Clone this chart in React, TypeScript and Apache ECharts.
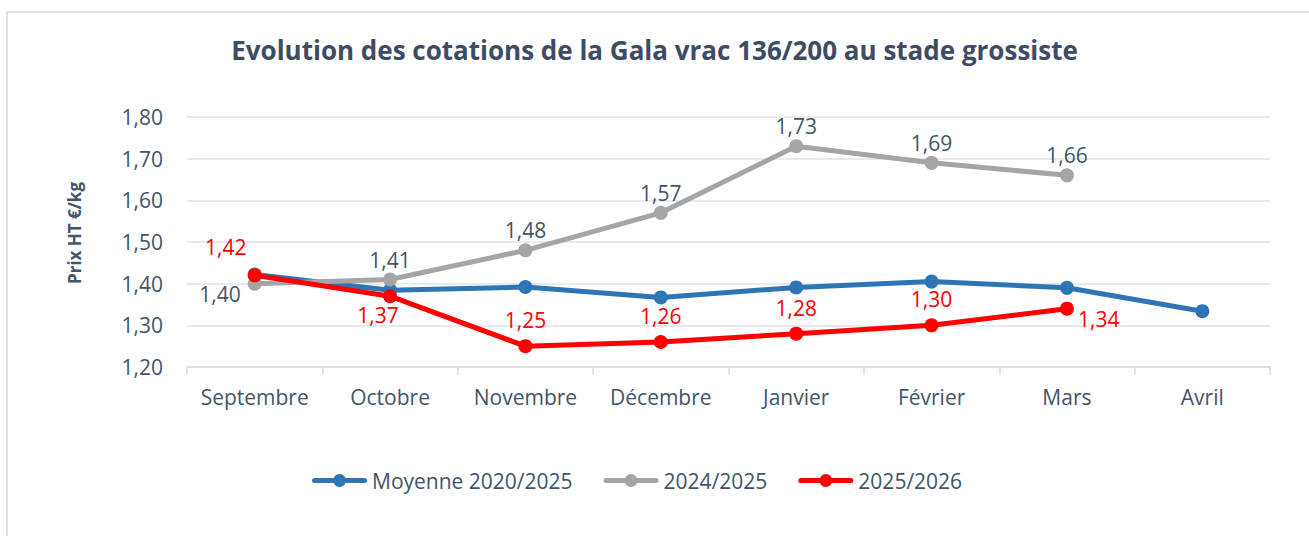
import React, { useEffect, useRef } from "react";
import * as echarts from "echarts";

const months = ["Septembre", "Octobre", "Novembre", "Décembre", "Janvier", "Février", "Mars", "Avril"];
const moyenne20202025 = [1.422, 1.384, 1.392, 1.367, 1.391, 1.405, 1.39, 1.334];
const saison20242025 = [1.4, 1.41, 1.48, 1.57, 1.73, 1.69, 1.66];
const saison20252026 = [1.42, 1.37, 1.25, 1.26, 1.28, 1.3, 1.34];
const seriesNames = ["Moyenne 2020/2025", "2024/2025", "2025/2026"];
const yTicks = [1.2, 1.3, 1.4, 1.5, 1.6, 1.7, 1.8];

const TEXT = "#44546a";
const fmt = (v: number) => v.toFixed(2).replace(".", ",");
const LEGEND_ICON =
  "path://M2.5,4.5 L52.5,4.5 A2.5,2.5 0 0 1 52.5,9.5 L2.5,9.5 A2.5,2.5 0 0 1 2.5,4.5 Z M27.5,0.5 A6.5,6.5 0 0 1 27.5,13.5 A6.5,6.5 0 0 1 27.5,0.5 Z";

export default function App() {
  const ref = useRef<HTMLDivElement>(null);
  useEffect(() => {
    document.body.style.margin = "0";
    if (!ref.current) return;
    const chart = echarts.init(ref.current, null, { renderer: "svg" });

    const grayOverrides: Record<number, any> = {
      0: { position: "left", distance: 7, offset: [0, 10] },
    };
    const redOverrides: Record<number, any> = {
      0: { position: "top", distance: 8, offset: [-29, -2] },
      1: { position: "bottom", distance: 8, offset: [-12, -7] },
      6: { position: "right", distance: 4, offset: [0, 10] },
    };
    const mkData = (arr: number[], ov: Record<number, any>) =>
      arr.map((v, i) => (ov[i] ? { value: v, label: ov[i] } : v));

    const labelBase = {
      show: true,
      fontFamily: "Open Sans",
      fontSize: 21,
      lineHeight: 22,
      formatter: (p: any) => fmt(p.value as number),
    };

    chart.setOption({
      animation: false,
      backgroundColor: "#ffffff",
      title: {
        text: "Evolution des cotations de la Gala vrac 136/200 au stade grossiste",
        left: "center",
        top: 30,
        textStyle: {
          fontFamily: "Open Sans",
          fontWeight: "bold",
          fontSize: 26,
          lineHeight: 30,
          color: "#3e4c63",
        },
      },
      graphic: [
        { type: "line", shape: { x1: 7, y1: 12, x2: 1309, y2: 12 }, style: { stroke: "#dfe3e8", lineWidth: 2 } },
        { type: "line", shape: { x1: 7, y1: 12, x2: 7, y2: 536 }, style: { stroke: "#dfe3e8", lineWidth: 2 } },
        {
          type: "text",
          x: 74,
          y: 233,
          rotation: Math.PI / 2,
          style: {
            text: "Prix HT €/kg",
            fill: TEXT,
            font: "bold 17px 'Open Sans'",
            align: "center",
            verticalAlign: "middle",
          },
        },
      ],
      legend: {
        data: seriesNames.map((n) => ({ name: n, icon: LEGEND_ICON })),
        left: 307,
        top: 465,
        itemWidth: 55,
        itemHeight: 14,
        itemGap: 31,
        textStyle: { fontFamily: "Open Sans", fontSize: 21, color: TEXT },
      },
      grid: { left: 187, right: 39, top: 117, bottom: 169 },
      xAxis: {
        type: "category",
        data: months,
        boundaryGap: true,
        axisLine: { show: true, lineStyle: { color: "#d9dde3", width: 1.5 } },
        axisTick: { show: true, interval: 0, length: 8, lineStyle: { color: "#d9dde3", width: 1.5 } },
        axisLabel: { interval: 0, color: TEXT, fontFamily: "Open Sans", fontSize: 21, margin: 19 },
      },
      yAxis: {
        type: "value",
        min: yTicks[0],
        max: yTicks[yTicks.length - 1],
        interval: 0.1,
        axisLine: { show: false },
        axisTick: { show: false },
        splitLine: { lineStyle: { color: "#dfe3e8", width: 1.5 } },
        axisLabel: {
          color: TEXT,
          fontFamily: "Open Sans",
          fontSize: 21,
          margin: 24,
          formatter: (v: number) => fmt(v),
        },
      },
      series: [
        {
          name: seriesNames[0],
          type: "line",
          data: moyenne20202025,
          symbol: "circle",
          symbolSize: 14,
          lineStyle: { width: 5, color: "#2e75b6" },
          itemStyle: { color: "#2e75b6" },
        },
        {
          name: seriesNames[1],
          type: "line",
          data: mkData(saison20242025, grayOverrides),
          symbol: "circle",
          symbolSize: 14,
          lineStyle: { width: 5, color: "#a5a5a5" },
          itemStyle: { color: "#a5a5a5" },
          label: { ...labelBase, position: "top", distance: 2, color: TEXT },
        },
        {
          name: seriesNames[2],
          type: "line",
          data: mkData(saison20252026, redOverrides),
          symbol: "circle",
          symbolSize: 14,
          lineStyle: { width: 5, color: "#ff0000" },
          itemStyle: { color: "#ff0000" },
          label: { ...labelBase, position: "top", distance: 8, color: "#ff0000" },
        },
      ],
    });
    return () => chart.dispose();
  }, []);
  return <div ref={ref} style={{ width: 1309, height: 536 }} />;
}
